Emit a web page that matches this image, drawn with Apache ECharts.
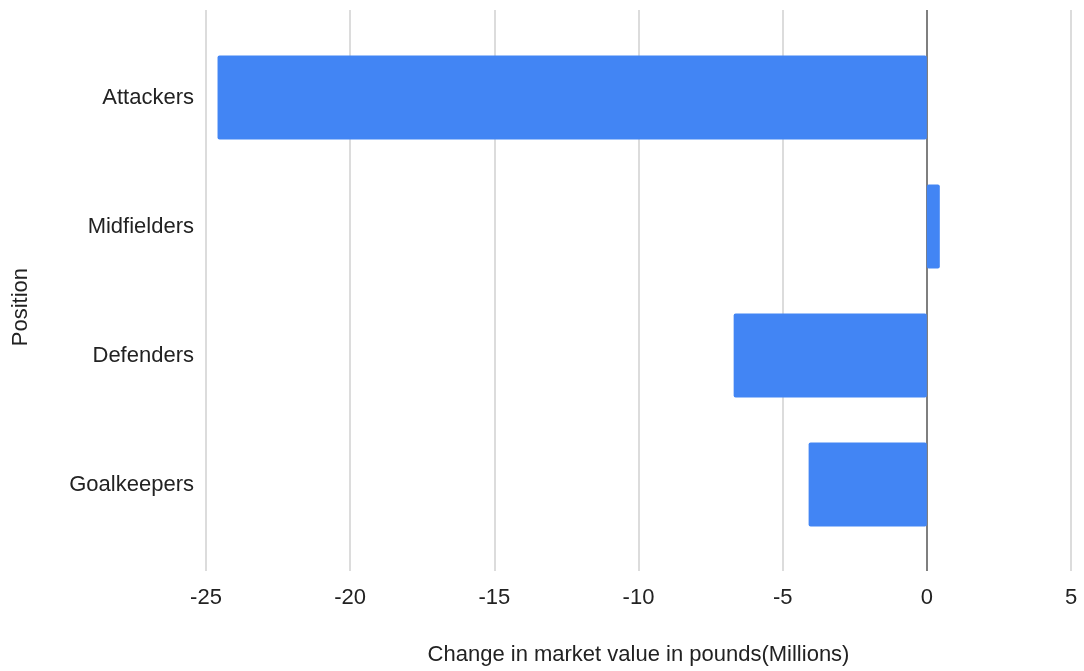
<!DOCTYPE html>
<html><head><meta charset="utf-8">
<script src="https://cdn.jsdelivr.net/npm/echarts@6/dist/echarts.min.js"></script>
<style>html,body{margin:0;padding:0;background:#fff}#c{width:1084px;height:671px}</style>
</head><body><div id="c"></div>
<script>
const categories = ['Attackers', 'Midfielders', 'Defenders', 'Goalkeepers'];
const values = [-24.6, 0.45, -6.7, -4.1];
const xTicks = [-25, -20, -15, -10, -5, 0, 5];
const xTitle = 'Change in market value in pounds(Millions)';
const yTitle = 'Position';

const font = '"Liberation Sans", Arial, Helvetica, sans-serif';
const chart = echarts.init(document.getElementById('c'), null, {renderer: 'canvas'});
chart.setOption({
  animation: false,
  grid: [
    {left: 206, right: 13, top: 10, bottom: 100},
    {left: 206, right: 13, top: 33, bottom: 122}
  ],
  xAxis: [
    {gridIndex: 0, type: 'value', min: xTicks[0], max: xTicks[xTicks.length-1], interval: 5,
     axisLine: {show: false}, axisTick: {show: false},
     axisLabel: {color: '#222', fontSize: 22, fontFamily: font, margin: 16},
     splitLine: {show: true, lineStyle: {width: 1.5,
       color: xTicks.map(t => t === 0 ? '#555' : '#d0d0d0')}},
     name: xTitle, nameLocation: 'middle', nameGap: 73,
     nameTextStyle: {color: '#222', fontSize: 22, fontFamily: font}},
    {gridIndex: 1, type: 'value', min: xTicks[0], max: xTicks[xTicks.length-1], interval: 5,
     show: false}
  ],
  yAxis: [
    {gridIndex: 0, type: 'category', data: categories, show: false},
    {gridIndex: 1, type: 'category', data: categories, inverse: true,
     axisLine: {show: false}, axisTick: {show: false},
     axisLabel: {color: '#222', fontSize: 22, fontFamily: font, margin: 12},
     splitLine: {show: false}}
  ],
  graphic: [{
    type: 'text', left: 10, top: 268, rotation: Math.PI/2,
    style: {text: yTitle, fill: '#222', fontSize: 22, fontFamily: font}
  }],
  series: [{
    type: 'bar', xAxisIndex: 1, yAxisIndex: 1, data: values,
    barCategoryGap: '35%',
    itemStyle: {color: '#4285F4', borderRadius: 2}
  }]
});
</script></body></html>
